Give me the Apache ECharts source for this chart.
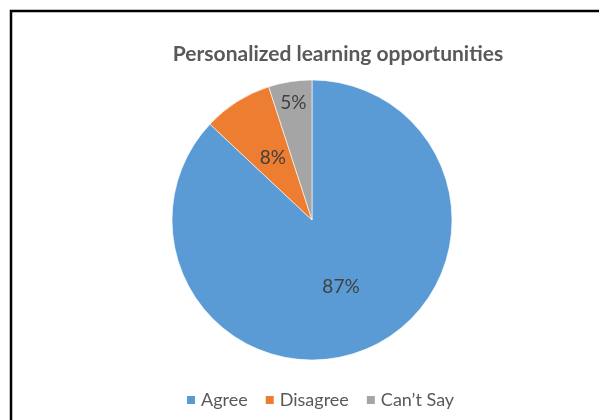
<!DOCTYPE html>
<html>
<head>
<meta charset="utf-8">
<script src="https://cdn.jsdelivr.net/npm/echarts@6/dist/echarts.min.js"></script>
<style>
  html, body { margin: 0; padding: 0; background: #fff; }
  #chart { width: 599px; height: 420px; }
</style>
</head>
<body>
<div id="chart"></div>
<script>
// Survey responses: share of respondents (%)
const categories = ['Agree', 'Disagree', 'Can\u2019t Say'];
const shares = [87, 8, 5];
const colors = ['#5B9BD5', '#ED7D31', '#A5A5A5'];
// which slices print their value near the rim instead of mid-radius
const rimLabel = [false, false, true];

const chart = echarts.init(document.getElementById('chart'));

const labelFont = { fontFamily: 'Lato', fontSize: 19, color: '#404040' };

const sliceData = categories.map((name, i) => ({
  name: name,
  value: shares[i],
  itemStyle: { color: colors[i] },
  label: { show: !rimLabel[i] }
}));

// transparent ring over the same values, used only to place rim labels
const rimData = categories.map((name, i) => ({
  name: name,
  value: shares[i],
  itemStyle: { color: 'rgba(0,0,0,0)' },
  label: { show: rimLabel[i] }
}));

chart.setOption({
  animation: false,
  title: {
    text: 'Personalized learning opportunities',
    left: 333,
    top: 39,
    textAlign: 'center',
    textStyle: {
      fontFamily: 'Lato',
      fontSize: 21,
      fontWeight: 'bold',
      color: '#595959'
    }
  },
  legend: {
    bottom: 6,
    left: 180,
    icon: 'rect',
    itemWidth: 10,
    itemHeight: 10,
    itemGap: 16,
    data: categories,
    textStyle: { fontFamily: 'Lato', fontSize: 18, color: '#595959' }
  },
  graphic: [{
    type: 'rect',
    shape: { x: 11, y: 11, width: 700, height: 500 },
    style: { fill: 'none', stroke: '#000', lineWidth: 2.5 },
    silent: true
  }],
  series: [{
    type: 'pie',
    center: [312, 220],
    radius: [0, 140],
    startAngle: 90,
    clockwise: true,
    data: sliceData,
    itemStyle: { borderColor: '#fff', borderWidth: 0.6 },
    label: Object.assign({ position: 'inside', formatter: '{c}%' }, labelFont),
    labelLine: { show: false },
    emphasis: { disabled: true }
  }, {
    type: 'pie',
    center: [312, 220],
    radius: [92, 140],
    startAngle: 90,
    clockwise: true,
    silent: true,
    data: rimData,
    label: Object.assign({ position: 'inside', formatter: '{c}%' }, labelFont),
    labelLine: { show: false },
    emphasis: { disabled: true }
  }]
});
</script>
</body>
</html>
